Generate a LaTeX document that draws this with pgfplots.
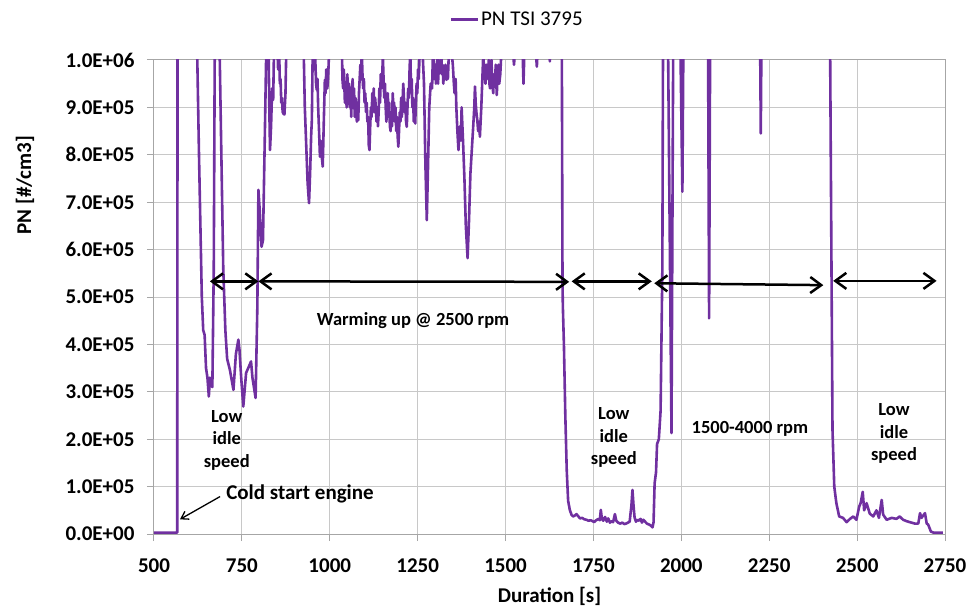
\documentclass[border=0pt]{standalone}
\usepackage{fontspec}
\setmainfont{Carlito}
\usepackage{pgfplots}
\pgfplotsset{compat=1.18}
\usetikzlibrary{arrows.meta}
\definecolor{pnpurple}{HTML}{7030A0}
\definecolor{gridgray}{HTML}{C8C8C8}
\definecolor{axgray}{HTML}{A6A6A6}
\newcommand{\tfont}{\fontsize{21}{24}\selectfont\bfseries}
\newcommand{\lfont}{\fontsize{21}{25}\selectfont\bfseries}
\newcommand{\afont}{\fontsize{18.5}{22.5}\selectfont\bfseries}

\pgfplotstableread{
x y
500 3000
560 3000
566 3000
567 1050000
622 1050000
628 800000
636 500000
640 430000
644 420000
648 350000
652 330000
656 290000
659 330000
662 315000
666 310000
670 560000
673 1050000
686 1050000
697 560000
703 430000
708 370000
716 346000
726 304000
733 380000
740 410000
743 390000
748 330000
754 269000
762 340000
768 350000
776 364000
780 330000
789 287000
794 480000
797 726000
801 680000
806 606000
810 620000
815 830000
820 1050000
824 980000
826 1020000
828 900000
830 810000
833 860000
836 940000
839 916000
842 1050000
850 1050000
853 980000
856 1020000
858 950000
860 960000
862 910000
864 920000
866 890000
868 887000
871 885000
874 930000
877 1050000
925 1050000
929 900000
933 820000
937 740000
941 698000
944 760000
947 840000
949 873000
952 1050000
956 980000
958 1020000
961 950000
963 937000
965 960000
967 900000
970 840000
972 796000
974 830000
976 810000
978 790000
980 775000
983 870000
986 958000
988 930000
990 980000
993 940000
995 960000
1000 1050000
1034 1050000
1036 960000
1038 940000
1040 980000
1043 910000
1045 950000
1048 900000
1050 970000
1052 920000
1055 950000
1057 900000
1059 940000
1061 880000
1063 930000
1065 960000
1067 900000
1069 940000
1071 880000
1073 920000
1075 900000
1077 870000
1079 900000
1081 873000
1083 930000
1085 960000
1087 990000
1089 960000
1091 1020000
1093 970000
1095 940000
1097 960000
1099 910000
1101 930000
1103 890000
1105 910000
1107 870000
1109 880000
1111 820000
1113 810000
1115 860000
1117 900000
1119 880000
1121 930000
1123 900000
1125 940000
1127 890000
1129 920000
1131 900000
1133 870000
1135 900000
1137 860000
1139 890000
1141 940000
1143 910000
1145 970000
1147 940000
1149 960000
1151 1010000
1153 960000
1155 920000
1157 950000
1159 900000
1161 870000
1163 900000
1165 930000
1167 880000
1169 910000
1171 860000
1173 850000
1175 890000
1177 860000
1179 930000
1181 900000
1183 910000
1185 870000
1187 900000
1189 850000
1191 880000
1193 840000
1195 817000
1197 850000
1199 890000
1201 870000
1203 920000
1205 880000
1207 910000
1209 950000
1211 920000
1213 890000
1215 910000
1217 870000
1219 859000
1221 900000
1223 940000
1225 920000
1227 980000
1229 1020000
1231 940000
1233 960000
1235 900000
1237 920000
1239 870000
1241 890000
1243 866000
1245 910000
1247 950000
1249 930000
1251 980000
1253 960000
1255 1000000
1257 1030000
1262 1050000
1268 950000
1272 780000
1276 662000
1279 760000
1283 900000
1287 950000
1291 940000
1294 1030000
1297 960000
1300 990000
1302 950000
1304 980000
1306 1010000
1308 950000
1310 990000
1313 972000
1315 1000000
1317 1020000
1319 970000
1321 990000
1323 950000
1325 980000
1327 960000
1329 990000
1332 958000
1334 985000
1336 960000
1338 1000000
1340 1010000
1345 1030000
1350 990000
1353 950000
1355 930000
1358 960000
1360 900000
1363 850000
1366 810000
1370 860000
1373 830000
1375 900000
1379 830000
1383 750000
1387 650000
1392 582000
1396 660000
1400 760000
1404 810000
1408 860000
1411 900000
1413 944000
1415 910000
1417 890000
1420 870000
1422 850000
1425 870000
1427 838000
1431 900000
1434 960000
1437 1020000
1439 960000
1441 980000
1443 950000
1445 990000
1447 970000
1450 960000
1452 1000000
1454 950000
1456 940000
1458 980000
1460 1000000
1462 950000
1465 930000
1467 970000
1470 950000
1472 990000
1475 926000
1477 960000
1480 990000
1482 950000
1485 970000
1489 1030000
1520 1030000
1524 990000
1528 1030000
1548 1030000
1551 950000
1554 1030000
1585 1030000
1589 986000
1592 1030000
1624 1030000
1626 997000
1628 1030000
1660 1050000
1662 530000
1663 480000
1666 400000
1670 250000
1674 135000
1678 70000
1683 50000
1688 40000
1692 37000
1697 39000
1702 42000
1706 38000
1712 33000
1718 34000
1724 31000
1730 30000
1736 28000
1742 29000
1748 27000
1752 25000
1756 28000
1760 30000
1764 32000
1768 29000
1771 51000
1774 32000
1778 28000
1783 36000
1788 26000
1792 33000
1797 24000
1802 27000
1806 25000
1811 42000
1815 28000
1820 24000
1826 22000
1832 24000
1838 21000
1843 22000
1848 24000
1853 26000
1858 60000
1861 93000
1864 60000
1867 35000
1871 26000
1876 30000
1880 28000
1884 32000
1888 24000
1892 30000
1897 26000
1902 22000
1908 20000
1913 18000
1918 14000
1921 25000
1924 107000
1928 130000
1931 190000
1936 200000
1941 260000
1946 560000
1948 1050000
1962 1050000
1972 213000
1977 1050000
1997 1050000
2003 722000
2006 1050000
2076 1050000
2079 455000
2082 1050000
2224 1050000
2226 845000
2228 1050000
2423 1050000
2430 220000
2435 100000
2441 65000
2449 37000
2460 34000
2470 25000
2480 32000
2489 37000
2498 30000
2506 58000
2510 65000
2516 89000
2520 50000
2527 65000
2536 43000
2546 37000
2555 50000
2562 34000
2570 72000
2574 41000
2584 30000
2598 34000
2612 32000
2621 37000
2631 30000
2641 27000
2650 25000
2664 22000
2674 22000
2679 44000
2683 34000
2693 44000
2698 22000
2702 20000
2710 5000
2717 3000
2744 3000
}\pndata

\begin{document}
\begin{tikzpicture}
\useasboundingbox (-154pt,-72pt) rectangle (826pt,534pt);
\begin{axis}[
  at={(0pt,0pt)}, anchor=south west,
  scale only axis, width=791pt, height=474pt,
  xmin=500, xmax=2750, ymin=0, ymax=1000000,
  xtick={500,750,1000,1250,1500,1750,2000,2250,2500,2750},
  xticklabels={500,750,1000,1250,1500,1750,2000,2250,2500,2750},
  ytick={0,100000,200000,300000,400000,500000,600000,700000,800000,900000,1000000},
  yticklabels={0.0E+00,1.0E+05,2.0E+05,3.0E+05,4.0E+05,5.0E+05,6.0E+05,7.0E+05,8.0E+05,9.0E+05,1.0E+06},
  scaled y ticks=false, scaled x ticks=false,
  grid=major, grid style={gridgray, line width=1pt},
  axis line style={axgray, line width=1pt},
  tick style={axgray, line width=1pt},
  tick align=outside, major tick length=7pt,
  tick pos=left,
  ticklabel style={font=\tfont},
  xticklabel style={yshift=-14pt},
  yticklabel style={xshift=-9pt},
  xlabel={Duration [s]}, ylabel={PN [\#/cm3]},
  label style={font=\lfont},
  xlabel style={at={(axis description cs:0.5,-0.131)}, anchor=center},
  ylabel style={at={(axis description cs:-0.163,0.736)}, anchor=center},
  clip mode=individual,
  legend style={at={(axis description cs:0.459,1.085)}, anchor=center, draw=none, fill=none,
    font=\fontsize{21}{24}\selectfont, inner sep=0pt},
  legend image code/.code={\draw[#1] (0pt,0pt) -- (27pt,0pt);},
]
\addplot[pnpurple, line width=2.6pt, line join=round] table[x=x,y=y] {\pndata};
\addlegendentry{PN TSI 3795}

\draw[{Straight Barb[length=11pt,width=16pt]}-{Straight Barb[length=11pt,width=16pt]}, line width=2.5pt] (axis cs:659,533000) -- (axis cs:797,533000);
\draw[{Straight Barb[length=11pt,width=16pt]}-{Straight Barb[length=11pt,width=16pt]}, line width=2.5pt] (axis cs:797,533000) -- (axis cs:1681,532000);
\draw[{Straight Barb[length=11pt,width=16pt]}-{Straight Barb[length=11pt,width=16pt]}, line width=2.5pt] (axis cs:1688,533000) -- (axis cs:1916,533000);
\draw[{Straight Barb[length=11pt,width=16pt]}-{Straight Barb[length=11pt,width=16pt]}, line width=2.5pt] (axis cs:1923,529000) -- (axis cs:2404,525000);
\draw[{Straight Barb[length=11pt,width=16pt]}-{Straight Barb[length=11pt,width=16pt]}, line width=2.5pt] (axis cs:2432,534000) -- (axis cs:2726,534000);

\node[font=\afont, inner sep=0pt] at (axis cs:1237,450000) {Warming up @ 2500 rpm};
\node[font=\afont, inner sep=0pt, align=center] at (axis cs:707,198000) {Low\\idle\\speed};
\node[font=\afont, inner sep=0pt, align=center] at (axis cs:1808,203000) {Low\\idle\\speed};
\node[font=\afont, inner sep=0pt, align=center] at (axis cs:2605,212000) {Low\\idle\\speed};
\node[font=\afont, inner sep=0pt] at (axis cs:2195,221000) {1500-4000 rpm};
\node[font=\fontsize{21}{24}\selectfont\bfseries, inner sep=0pt, anchor=base west] at (axis cs:705,73000) {Cold start engine};
\draw[-{Straight Barb[length=7pt,width=9pt]}, line width=1.3pt] (axis cs:688,79000) -- (axis cs:574,31000);
\end{axis}
\end{tikzpicture}
\end{document}
